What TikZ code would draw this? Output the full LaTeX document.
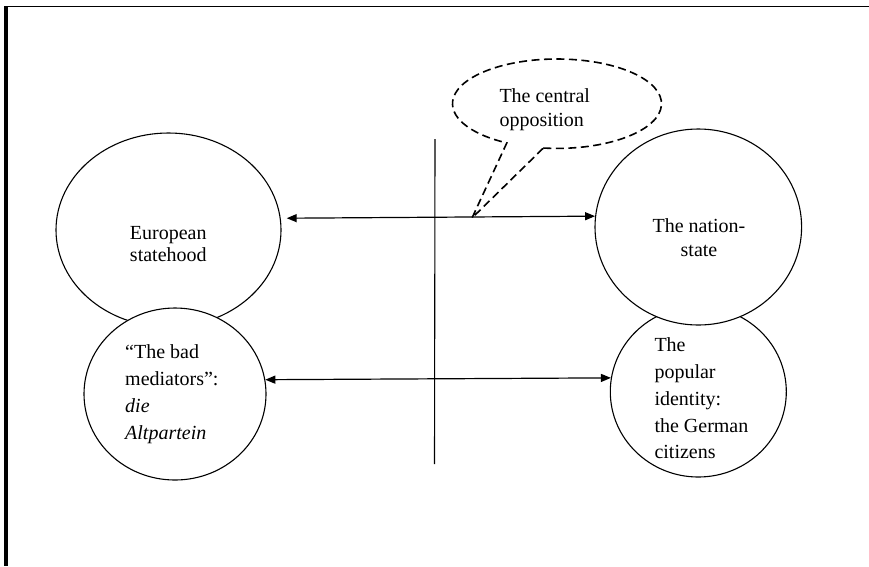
\documentclass[tikz,border=0pt]{standalone}
\usepackage{fontspec}
\setmainfont{Liberation Serif}
\usetikzlibrary{arrows.meta,shapes.geometric}

\tikzset{
  circ/.style={draw, ellipse, line width=1.1pt, fill=white, inner sep=0pt},
  dbl/.style={{Triangle[length=10pt,width=8pt]}-{Triangle[length=10pt,width=8pt]}, line width=1.2pt},
  lbl/.style={inner sep=0pt, font=\fontsize{20}{26.7}\selectfont},
  calloutline/.style={line width=1.6pt, dash pattern=on 8pt off 4.5pt}
}

\begin{document}
\begin{tikzpicture}[x=1pt, y=-1pt]
\useasboundingbox (0,0) rectangle (869,566);

% frame: heavy bar on the left, thin rule along the top
\fill (4,6) rectangle (8,566);
\draw[line width=1.5pt] (4,6.6) -- (869,6.6);

% left pair: the lower circle overlaps the upper ellipse
\node[circ, minimum width=225pt, minimum height=194pt] (eu) at (168.5,230) {};
\node[circ, minimum width=182pt, minimum height=172pt] (bm) at (175,394) {};

% right pair: the upper circle overlaps the lower one
\node[circ, minimum width=176pt, minimum height=170.6pt] (gc) at (698.3,391.7) {};
\node[circ, minimum width=206.6pt, minimum height=196pt] (ns) at (698.3,227) {};

% labels (anchored at the baseline of their last line)
\node[lbl, align=center, anchor=base, font=\fontsize{20}{22.4}\selectfont]
  (eutext) at (168.3,261.7) {European\\statehood};
\node[lbl, align=center, anchor=base, font=\fontsize{20}{23.3}\selectfont]
  (nstext) at (699,256) {The nation-\\state};
\node[lbl, align=left, anchor=base west]
  (bmtext) at (125,439) {“The bad\\mediators”:\\\textit{die}\\\textit{Altpartein}};
\node[lbl, align=left, anchor=base west]
  (gctext) at (654.3,458.7) {The\\popular\\identity:\\the German\\citizens};

% dividing line
\coordinate (vtop) at (435,139);
\coordinate (vbot) at (434.5,464);
\draw[line width=1.1pt] (vtop) -- (vbot);

% oppositions
\draw[dbl] ([xshift=6pt]eu.6.6) -- (ns.174.4);
\draw[dbl] (bm.9.5) -- (gc.171.5);

% speech bubble pointing at the upper opposition
\coordinate (bubble) at (557,103.7);
\coordinate (tip) at (472,218);
\draw[calloutline] (bubble) ++(97.5:104.5 and 44.7)
  arc[start angle=97.5, end angle=-241.3, x radius=104.5, y radius=44.7]
  -- (tip) -- cycle;
\node[lbl, align=left, anchor=base west, font=\fontsize{20}{23.5}\selectfont]
  (bubbletext) at (499.3,126) {The central\\opposition};
\end{tikzpicture}
\end{document}
